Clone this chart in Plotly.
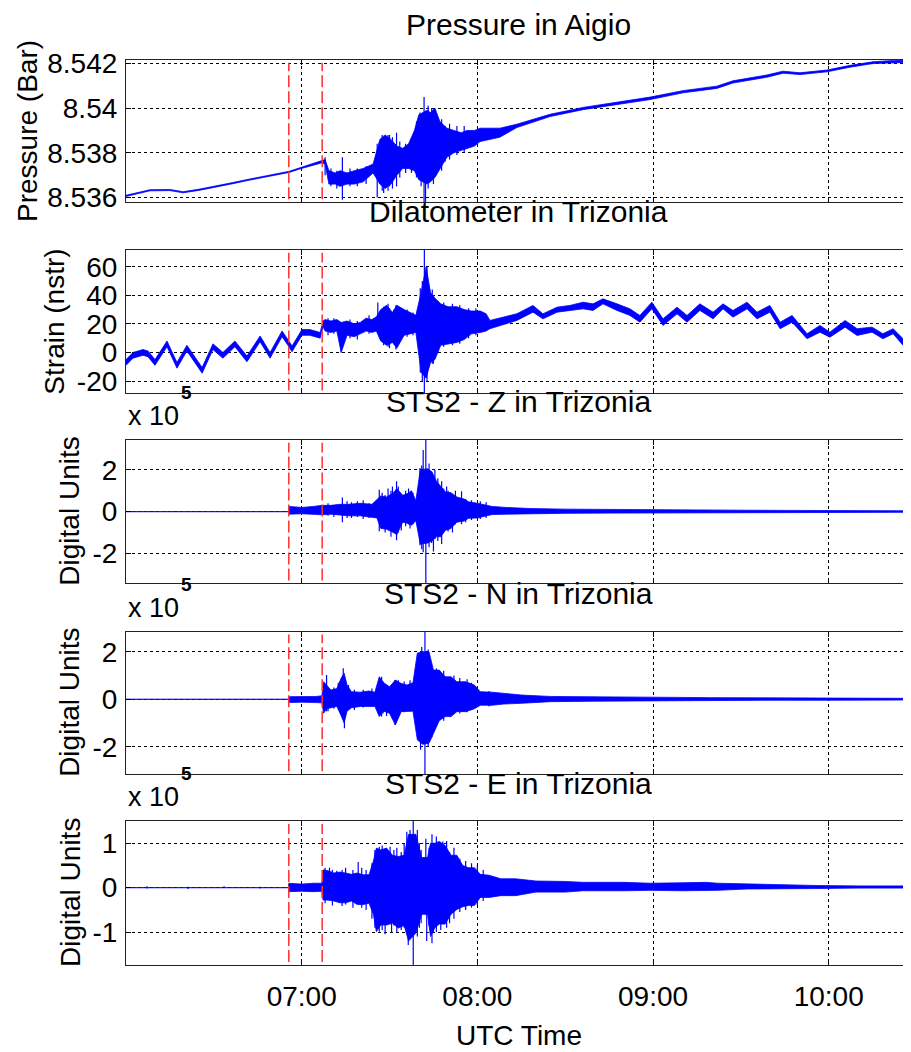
import plotly.graph_objects as go

# ---------------- data (time = minutes after 06:00 UTC) ----------------
# Pressure in Aigio (Bar): envelope of the trace
P_T = [0, 8.2, 15, 19.5, 25.3, 31.1, 36.5, 42.3, 48.2, 55.7, 59.4, 66.9, 68.0, 69.3, 71.5, 73.1, 75.5, 78, 81, 84.4,
       86.7, 88.5, 90.5, 92.5, 94.5, 96.5, 98.5, 100, 102.8, 104, 105.5, 107.2, 109.6, 112, 114.5, 116.5, 119, 120.9, 124, 127.7,
       133.5, 138, 144.8, 156.1, 167.7, 179, 190.2, 201.8, 207.3, 218.9, 224.4, 230.2, 239.4, 247.3, 255.1, 261, 268.2]
P_HI = [8.53610, 8.53635, 8.53636, 8.53626, 8.53638, 8.53652, 8.53667, 8.53683, 8.53697, 8.53717, 8.53733, 8.53765, 8.5377, 8.5372, 8.5371, 8.5372, 8.5371, 8.5372, 8.5373, 8.5375,
        8.5386, 8.5388, 8.5386, 8.5383, 8.5382, 8.5384, 8.5390, 8.5397, 8.5399, 8.5398, 8.5400, 8.5394, 8.5391, 8.5390, 8.5389, 8.5390, 8.5390, 8.5391, 8.5391, 8.5391,
        8.53928, 8.53945, 8.53972, 8.54003, 8.54027, 8.54049, 8.54078, 8.54098, 8.54122, 8.54148, 8.54165, 8.54158, 8.54170, 8.54191, 8.54207, 8.54212, 8.54213]
P_LO = [8.53605, 8.53630, 8.53631, 8.53621, 8.53633, 8.53647, 8.53662, 8.53678, 8.53692, 8.53712, 8.53728, 8.53755, 8.5375, 8.5366, 8.5366, 8.5365, 8.5366, 8.5366, 8.5367, 8.5371,
        8.5366, 8.5364, 8.5366, 8.5370, 8.5373, 8.5373, 8.5372, 8.5368, 8.5366, 8.5367, 8.5369, 8.5373, 8.5378, 8.5380, 8.5381, 8.5382, 8.5383, 8.5385, 8.5386, 8.5387,
        8.53913, 8.53932, 8.53962, 8.53993, 8.54015, 8.54038, 8.54068, 8.54088, 8.54112, 8.54138, 8.54156, 8.54150, 8.54162, 8.54183, 8.54199, 8.54203, 8.54205]
P_SPK_T = [68.0, 70, 72, 73.9, 76.5, 79, 82, 85.8, 87.5, 88, 89.5, 90, 91, 92.4, 93.5, 95.5, 97.5, 99.2, 100.4, 100.8,
           101.8, 102.3, 103.2, 104.4, 105, 106.0, 107.8, 109.0, 110.5, 113, 115.5]
P_SPK_HI = [8.5378, 8.5373, 8.5372, 8.5378, 8.5373, 8.5373, 8.5374, 8.5384, 8.5388, 8.5387, 8.5388, 8.5388, 8.5387, 8.5389, 8.5385, 8.5384, 8.5386, 8.5394, 8.5398, 8.5397,
            8.5405, 8.5398, 8.5401, 8.5400, 8.5399, 8.5396, 8.5395, 8.5392, 8.5393, 8.5392, 8.5392]
P_SPK_LO = [8.5370, 8.5365, 8.5364, 8.5359, 8.5365, 8.5365, 8.5366, 8.5360, 8.5363, 8.5362, 8.5363, 8.5365, 8.5364, 8.5365, 8.5369, 8.5371, 8.5371, 8.5369, 8.5368, 8.5365,
            8.5358, 8.5357, 8.5364, 8.5368, 8.5366, 8.5370, 8.5372, 8.5376, 8.5377, 8.5379, 8.5380]

# Dilatometer in Trizonia (nstr)
D_T = [0, 2.4, 5.8, 7.5, 9.9, 14.0, 17.4, 20.8, 26.0, 29.7, 33.1, 37.2, 41.3, 45.8, 49.2, 53.3, 55.3, 56.7, 60.1, 62.8,
       66.3, 67.3, 68, 70, 72, 73.5, 75.5, 78, 80, 82, 84, 85.5, 87, 89, 91, 92.5, 95, 97, 99, 100.8,
       102.5, 104, 105.5, 107.5, 110, 113, 115.5, 118, 121, 123, 124.3, 133.5, 139, 142.4, 147.2, 151.6, 156.1, 159.5, 162.9, 167.7,
       172.1, 175.5, 179.6, 183.4, 188.2, 191.6, 196.0, 200.5, 203.9, 207.3, 212.1, 215.5, 219.9, 223.4, 227.5, 232.6, 237.0, 240.4, 245.6, 249.7,
       254.8, 258.5, 262.0, 265.4, 268.2]
D_HI = [-5, 0, 2, 1, -5, 8, -7, 5, -10.5, 6, 0, 8, -2.5, 11.5, 0, 15, 9, 4.5, 16, 16,
        14, 22, 23, 22, 23, 21, 22, 20, 21, 24, 23, 25, 30, 33, 28, 33, 30, 28, 26, 42,
        60, 42, 38, 34, 32, 32, 30, 29, 29, 27, 22.4, 27.1, 32.9, 27, 31.7, 32.9, 35.2, 34.0, 37.5, 34.0,
        30.5, 25.9, 35.2, 23.5, 31.7, 25.9, 34.0, 28.2, 34.0, 29.4, 35.2, 28.2, 32.9, 21.2, 25.9, 13.1, 18.9, 14.2, 22.4, 16.6,
        17.7, 13.1, 16.6, 9.6, 11.9]
D_LO = [-9, -4, -2, -3, -9, 4, -11, 1, -14.5, 2, -4, 4, -6.5, 7.5, -4, 11, 5, 0.5, 12, 12,
        10, 18, 15, 14, 15, 0, 12, 11, 13, 15, 14, 15, 8, 5, 7, 3, 12, 13, 14, -14,
        -18, -7, -5, 5, 6, 7, 9, 13, 14, 15, 16.6, 22.4, 28.2, 23.5, 28.2, 29.4, 30.5, 29.4, 34.0, 29.4,
        25.9, 21.2, 30.5, 18.9, 27.0, 21.2, 29.4, 23.5, 30.5, 24.7, 30.5, 23.5, 28.2, 16.6, 21.2, 9.6, 14.2, 10.7, 17.7, 11.9,
        14.2, 9.6, 13.1, 4.9, 7.2]
D_SPK_T = [69, 71, 73.5, 76.5, 79, 83, 86.0, 88, 89.5, 90, 91.5, 92.2, 94, 96, 98, 100.5, 101.2, 101.9, 102.8, 103.5,
           104.6, 105, 106.5, 108.5, 111.5, 114, 117, 119.5]
D_SPK_HI = [24, 24, 21, 23, 22, 26, 35, 32, 34, 31, 30, 33, 31, 30, 28, 45, 50, 80, 60, 45,
            44, 40, 36, 35, 34, 33, 31, 31]
D_SPK_LO = [12, 13, 0, 10, 9, 13, 14, 5, 4, 3, 6, 2, 10, 11, 12, -14, -20, -35, -20, -10,
            -8, -8, 0, 4, 5, 6, 10, 12]

# STS2 - Z in Trizonia (digital units x 1e5)
Z_T = [0, 55.5, 55.7, 60, 64, 66.9, 70, 73, 76, 80, 84, 85.7, 87, 89, 91.3, 92.5, 94.5, 96, 97.5, 99,
       100.5, 103, 104.5, 106, 107.5, 109, 111, 113, 115.5, 117, 120, 125, 130, 138, 150, 165, 180, 195, 210, 225,
       240, 255, 268.2]
Z_HI = [0, 0, 0.25, 0.2, 0.25, 0.3, 0.3, 0.35, 0.35, 0.4, 0.35, 0.6, 0.75, 0.7, 0.9, 1.1, 0.78, 0.85, 1.0, 0.52,
        2.0, 2.05, 1.9, 1.46, 1.2, 0.95, 0.9, 0.7, 0.6, 0.47, 0.4, 0.25, 0.2, 0.15, 0.12, 0.1, 0.09, 0.08, 0.07, 0.06,
        0.05, 0.04, 0.04]
Z_LO = [0, 0, -0.12, -0.1, -0.13, -0.15, -0.12, -0.15, -0.2, -0.2, -0.25, -0.3, -0.8, -0.84, -1.0, -1.1, -0.5, -0.55, -0.65, -0.43,
        -1.55, -1.5, -1.4, -1.2, -1.2, -0.9, -0.8, -0.5, -0.45, -0.32, -0.3, -0.14, -0.12, -0.1, -0.08, -0.07, -0.06, -0.05, -0.05, -0.04,
        -0.03, -0.03, -0.03]
Z_SPK_T = [69, 71, 73.9, 75.5, 77, 79, 81, 83, 86.5, 87.5, 88.5, 89.5, 90.5, 91, 92.4, 93, 94, 95.5, 96.5, 97,
           98.0, 99.5, 100.4, 101, 101.5, 102.4, 103.5, 104.4, 105, 105.5, 106.5, 107.8, 108.5, 109.5, 110.0, 111.5, 112.5, 114.6, 116, 118,
           121, 123]
Z_SPK_HI = [0.4, 0.3, 0.68, 0.5, 0.45, 0.5, 0.55, 0.4, 1.05, 0.9, 0.8, 1.1, 1.0, 1.2, 1.45, 1.2, 0.7, 1.0, 1.1, 0.9,
            0.9, 0.8, 2.08, 2.2, 2.94, 5, 2.3, 1.84, 1.7, 2.0, 1.6, 1.45, 1.1, 1.2, 1.0, 0.8, 1.0, 0.97, 0.6, 0.55,
            0.5, 0.45]
Z_SPK_LO = [-0.2, -0.25, -0.5, -0.3, -0.3, -0.25, -0.35, -0.3, -0.93, -0.7, -1.0, -0.8, -1.2, -0.9, -1.36, -1.0, -0.9, -0.7, -0.6, -0.8,
            -0.6, -0.6, -1.6, -1.8, -1.94, -5, -1.7, -1.5, -1.9, -1.3, -1.4, -1.55, -1.0, -0.8, -0.95, -1.0, -0.6, -0.6, -0.5, -0.4,
            -0.35, -0.3]

# STS2 - N in Trizonia (digital units x 1e5)
N_T = [0, 55.6, 55.7, 60, 65, 66.9, 67.5, 68.5, 70, 72, 73.5, 74.5, 75.5, 77, 80, 83, 85, 86.5, 88, 90,
       92, 94, 96, 98, 99.5, 101.3, 103.5, 105, 107, 109, 111, 113, 116, 119, 121, 125, 129, 135, 145, 160,
       180, 200, 220, 240, 268.2]
N_HI = [0, 0, 0.11, 0.1, 0.12, 0.15, 0.74, 0.6, 0.39, 0.45, 0.9, 1.1, 0.6, 0.32, 0.3, 0.35, 0.3, 0.95, 0.7, 0.53,
        0.81, 0.67, 0.6, 0.7, 1.95, 2.0, 2.0, 1.23, 1.23, 0.95, 0.95, 0.74, 0.74, 0.6, 0.32, 0.3, 0.25, 0.18, 0.12, 0.1,
        0.08, 0.07, 0.06, 0.05, 0.04]
N_LO = [0, 0, -0.14, -0.12, -0.14, -0.15, -0.59, -0.4, -0.36, -0.3, -0.7, -1.0, -0.5, -0.36, -0.3, -0.3, -0.3, -0.73, -0.5, -0.59,
        -1.08, -0.52, -0.5, -0.5, -1.71, -1.9, -1.85, -1.43, -0.9, -0.73, -0.73, -0.52, -0.52, -0.4, -0.25, -0.25, -0.2, -0.17, -0.1, -0.08,
        -0.06, -0.05, -0.04, -0.04, -0.03]
N_SPK_T = [68.5, 69, 71, 72.5, 74.2, 74.6, 76, 78, 81, 84, 87.3, 87.8, 89, 91, 91.9, 93, 95, 97, 98.7, 99.8,
           100.6, 101, 102.1, 102.8, 103.2, 104, 104.5, 106, 107.5, 108.5, 110.7, 112, 114, 116.5, 118, 120, 124]
N_SPK_HI = [1.02, 0.5, 0.5, 0.7, 1.31, 0.5, 0.6, 0.4, 0.4, 0.45, 0.95, 0.75, 0.6, 0.65, 0.81, 0.8, 0.75, 0.8, 0.81, 1.6,
            1.95, 2.2, 5, 1.95, 2.1, 1.5, 1.3, 1.3, 1.1, 1.2, 0.88, 1.0, 0.9, 0.85, 0.7, 0.45, 0.35]
N_SPK_LO = [-0.5, -0.5, -0.4, -0.3, -0.3, -1.22, -0.4, -0.45, -0.35, -0.3, -0.73, -0.6, -0.7, -0.8, -1.08, -0.7, -0.55, -0.5, -0.6, -1.5,
            -2.13, -1.7, -5, -1.85, -2.0, -1.2, -1.6, -1.0, -0.8, -0.9, -0.73, -0.6, -0.6, -0.55, -0.45, -0.3, -0.3]

# STS2 - E in Trizonia (digital units x 1e5)
E_T = [0, 55.5, 55.6, 60, 64, 66.9, 67.3, 69, 71, 73, 75, 77, 79, 81, 83, 84.5, 85.5, 87, 89, 91,
       93, 95, 96.5, 99, 101, 103, 104, 105.5, 107, 109, 111, 113, 115, 117, 119, 121, 124, 128, 133, 140,
       150, 156, 170, 179, 190, 198, 202, 212, 225, 235, 250, 268.2]
E_HI = [0, 0, 0.1, 0.08, 0.1, 0.1, 0.4, 0.38, 0.33, 0.35, 0.33, 0.3, 0.33, 0.29, 0.29, 0.6, 0.89, 0.85, 0.89, 0.73,
        0.7, 0.73, 1.2, 1.2, 0.68, 0.68, 1.0, 1.0, 1.04, 0.95, 0.73, 0.73, 0.5, 0.45, 0.45, 0.3, 0.28, 0.2, 0.2, 0.15,
        0.14, 0.12, 0.12, 0.1, 0.11, 0.12, 0.1, 0.08, 0.07, 0.05, 0.04, 0.04]
E_LO = [0, 0, -0.09, -0.08, -0.09, -0.08, -0.28, -0.28, -0.3, -0.34, -0.34, -0.3, -0.38, -0.38, -0.35, -0.6, -0.99, -0.84, -0.84, -0.8,
        -0.91, -0.85, -1.2, -1.02, -0.6, -0.6, -1.1, -0.9, -0.82, -0.82, -0.6, -0.49, -0.43, -0.4, -0.4, -0.22, -0.22, -0.18, -0.18, -0.1,
        -0.1, -0.07, -0.07, -0.06, -0.07, -0.07, -0.06, -0.03, -0.03, -0.02, -0.01, -0.01]
E_SPK_T = [7.2, 21.2, 33.5, 45.8, 68, 69.5, 70.5, 72, 73.8, 75, 77.5, 79.3, 80.5, 82, 84, 85, 86.5, 87.5, 88.5, 90.2,
           90.7, 91.5, 92.5, 94, 95, 95.9, 96.4, 97, 98.1, 99.5, 100.2, 100.8, 102.4, 102.7, 103.5, 104.5, 105.0, 106, 107.5, 108.2,
           108.4, 109.5, 110.5, 112, 114, 116, 118, 120, 122]
E_SPK_HI = [0.03, 0.02, 0.03, 0.02, 0.45, 0.45, 0.4, 0.38, 0.4, 0.45, 0.4, 0.58, 0.45, 0.4, 0.55, 0.85, 0.92, 0.95, 0.8, 0.92,
            0.5, 0.85, 0.9, 0.8, 1.0, 1.26, 0.9, 1.3, 5, 1.3, 1.0, 0.85, 1.1, 0.6, 0.9, 1.2, 1.0, 1.15, 0.95, 1.04,
            0.5, 1.05, 0.8, 0.9, 0.65, 0.6, 0.55, 0.5, 0.4]
E_SPK_LO = [-0.02, -0.03, -0.01, -0.02, -0.35, -0.2, -0.4, -0.3, -0.41, -0.38, -0.45, -0.3, -0.45, -0.5, -0.7, -0.9, -0.99, -0.95, -1.05, -0.5,
            -1.02, -0.85, -1.0, -0.95, -0.9, -0.9, -1.29, -1.1, -5, -1.1, -0.9, -0.8, -0.6, -1.2, -0.85, -1.25, -1.0, -1.0, -0.95, -0.5,
            -0.82, -0.9, -0.8, -0.7, -0.55, -0.5, -0.45, -0.4, -0.3]

EVENT_T = [55.6, 67.0]          # red dashed markers
X_TICKS = [60, 120, 180, 240]
X_TICKTEXT = ["07:00", "08:00", "09:00", "10:00"]
X_RANGE = [0, 268.1]

TITLES = ["Pressure in Aigio", "Dilatometer in Trizonia", "STS2 - Z in Trizonia",
          "STS2 - N in Trizonia", "STS2 - E in Trizonia"]
YLABELS = ["Pressure (Bar)", "Strain (nstr)", "Digital Units", "Digital Units", "Digital Units"]
Y_RANGES = [[8.5358, 8.54215], [-28.6, 71.7], [-3.42, 3.42], [-3.15, 2.85], [-1.74, 1.5]]
Y_TICKS = [[8.536, 8.538, 8.540, 8.542], [-20, 0, 20, 40, 60], [-2, 0, 2], [-2, 0, 2], [-1, 0, 1]]
Y_TICKTEXT = [["8.536", "8.538", "8.54", "8.542"], ["-20", "0", "20", "40", "60"],
              ["-2", "0", "2"], ["-2", "0", "2"], ["-1", "0", "1"]]

SERIES = [
    (P_T, P_HI, P_LO, P_SPK_T, P_SPK_HI, P_SPK_LO),
    (D_T, D_HI, D_LO, D_SPK_T, D_SPK_HI, D_SPK_LO),
    (Z_T, Z_HI, Z_LO, Z_SPK_T, Z_SPK_HI, Z_SPK_LO),
    (N_T, N_HI, N_LO, N_SPK_T, N_SPK_HI, N_SPK_LO),
    (E_T, E_HI, E_LO, E_SPK_T, E_SPK_HI, E_SPK_LO),
]

# ---------------- layout geometry (page pixels; the page body has an 8px margin) ----------------
OFF = 8
PAGE_W, PAGE_H = 911, 1052
W, H = PAGE_W - OFF, PAGE_H - OFF
PLOT_L, PLOT_R, PLOT_T, PLOT_B = 126, 911, 60, 965          # page px
ML, MR, MT = PLOT_L - OFF, PAGE_W - PLOT_R, PLOT_T - OFF
MB = H - (PLOT_B - OFF)
PH = PLOT_B - PLOT_T
PW = PLOT_R - PLOT_L
PANEL_PX = [(60, 202), (250, 393.3), (440, 583.3), (631.7, 774), (821, 965)]


def py(p):
    return (PLOT_B - p) / PH


def px(p):
    return (p - PLOT_L) / PW


FONT = "Liberation Sans, Arial, Helvetica, sans-serif"
BLUE = "#0000ff"

fig = go.Figure()
layout = dict(
    width=W, height=H, margin=dict(l=ML, r=MR, t=MT, b=MB, autoexpand=False),
    paper_bgcolor="white", plot_bgcolor="white", showlegend=False,
    font=dict(family=FONT, size=28, color="black"),
)
annotations = []
shapes = []

for i, (t, hi, lo, st, shi, slo) in enumerate(SERIES):
    k = "" if i == 0 else str(i + 1)
    xa, ya = "x" + k, "y" + k
    fig.add_trace(go.Scatter(x=t, y=lo, mode="lines", line=dict(color=BLUE, width=0.8),
                             xaxis=xa, yaxis=ya, hoverinfo="skip"))
    fig.add_trace(go.Scatter(x=t, y=hi, mode="lines", line=dict(color=BLUE, width=0.8),
                             fill="tonexty", fillcolor=BLUE, xaxis=xa, yaxis=ya, hoverinfo="skip"))
    sx, sy = [], []
    for a, b, c in zip(st, shi, slo):
        sx += [a, a, None]
        sy += [b, c, None]
    fig.add_trace(go.Scatter(x=sx, y=sy, mode="lines", line=dict(color=BLUE, width=1.2),
                             xaxis=xa, yaxis=ya, hoverinfo="skip", connectgaps=False))

    top, bot = PANEL_PX[i]
    common = dict(showgrid=True, gridcolor="black", griddash="dot", gridwidth=1,
                  ticks="inside", ticklen=5, tickcolor="black", tickwidth=1,
                  showline=True, linecolor="#222", linewidth=1.2, mirror="ticks",
                  zeroline=False)
    layout["xaxis" + k] = dict(domain=[0, 1], anchor=ya, range=X_RANGE,
                               tickmode="array", tickvals=X_TICKS, ticktext=X_TICKTEXT,
                               showticklabels=(i == 4), ticklabelstandoff=6, **common)
    layout["yaxis" + k] = dict(domain=[py(bot), py(top)], anchor=xa, range=Y_RANGES[i],
                               tickmode="array", tickvals=Y_TICKS[i], ticktext=Y_TICKTEXT[i],
                               ticklabelstandoff=2, **common)
    for ev in EVENT_T:
        shapes.append(dict(type="line", xref=xa, yref=ya + " domain", x0=ev, x1=ev, y0=0.02, y1=0.98,
                           line=dict(color="#ff3030", width=1.5, dash="12px,4px")))
    # panel title
    title_gap = 35 if i == 0 else 38
    annotations.append(dict(text=TITLES[i], xref="paper", yref="paper", x=0.5, y=py(top - title_gap),
                            xanchor="center", yanchor="middle", showarrow=False,
                            font=dict(size=30)))
    # y label
    ylx = [27, 55, 70, 70, 70][i]
    annotations.append(dict(text=YLABELS[i], xref="paper", yref="paper", x=px(ylx),
                            y=py((top + bot) / 2), xanchor="center", yanchor="middle",
                            textangle=-90, showarrow=False, font=dict(size=28)))
    if i >= 2:
        annotations.append(dict(text="x 10", xref="paper", yref="paper", x=0, y=py(top - 24),
                                xanchor="left", yanchor="middle", showarrow=False,
                                font=dict(size=27)))
        annotations.append(dict(text="<b>5</b>", xref="paper", yref="paper", x=px(186),
                                y=py(top - 47.5), xanchor="center", yanchor="middle",
                                showarrow=False, font=dict(size=19)))

annotations.append(dict(text="UTC Time", xref="paper", yref="paper", x=0.5, y=py(1035),
                        xanchor="center", yanchor="middle", showarrow=False, font=dict(size=28)))
layout["annotations"] = annotations
layout["shapes"] = shapes
fig.update_layout(**layout)
fig.write_html("out.html")
